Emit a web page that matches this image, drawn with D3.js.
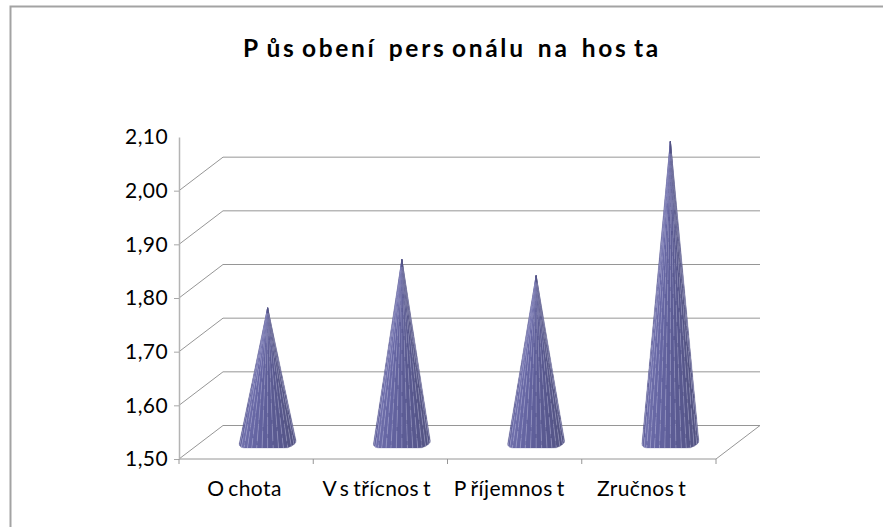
<!DOCTYPE html>
<html>
<head>
<meta charset="utf-8">
<script src="https://cdnjs.cloudflare.com/ajax/libs/d3/7.8.5/d3.min.js"></script>
<style>
  html, body { margin: 0; padding: 0; background: #fff; }
  svg { display: block; }
  text { font-family: Lato, "Open Sans", sans-serif; fill: #000; }
</style>
</head>
<body>
<svg class="chart" width="883" height="527"></svg>
<script>
var categories = ["Ochota", "Vstřícnost", "Příjemnost", "Zručnost"]
var values = [1.75, 1.84, 1.81, 2.06]
var yTicks = [1.5, 1.6, 1.7, 1.8, 1.9, 2.0, 2.1]
var gridTicks = [1.5, 1.6, 1.7, 1.8, 1.9, 2.0]
var title = "Působení personálu na hosta"

var svg = d3.select(".chart")
var defs = svg.append("defs")

var plot = {left: 179, right: 716, bottom: 459, top: 137}
var depth = {x: 44, y: -33.5}

var y = d3.scaleLinear().domain([1.5, 2.1]).range([plot.bottom, plot.top])
var x = d3.scaleBand().domain(categories).range([plot.left, plot.right])
var labelX = d3.scalePoint().domain(categories).range([244.5, 641.5])
var grey = "#969696"

// outer frame, only top and left edges show
svg.append("path")
    .attr("d", "M10.5,527V6.5H883")
    .attr("fill", "none")
    .attr("stroke", "#a3a3a3")
    .attr("stroke-width", 2)

// back wall gridlines plus the slanted side wall lines
var grid = svg.append("g")
    .attr("fill", "none")
    .attr("stroke", grey)

grid.selectAll("path")
  .data(gridTicks)
  .enter().append("path")
    .attr("d", function(d) {
      return `M${plot.left},${y(d)}l${depth.x},${depth.y}H${plot.right + depth.x}`
    })

// floor
grid.append("path")
    .attr("d", `M${plot.left},${plot.bottom}H${plot.right}l${depth.x},${depth.y}`)

var yAxis = d3.axisLeft(y)
    .tickValues(yTicks)
    .tickSize(5)
    .tickSizeOuter(0)
    .tickFormat(function(d) { return d3.format(".2f")(d).replace(".", ",") })

var yG = svg.append("g")
    .attr("transform", `translate(${plot.left},0)`)
    .call(yAxis)
yG.selectAll("line").attr("stroke", "#a8a8a8")
yG.select(".domain").attr("stroke", "#b4b4b4").attr("stroke-width", 1.5)
yG.selectAll(".tick")
    .filter(function(d) { return d === 2.1 })
    .select("line").remove()
yG.selectAll("text")
    .attr("x", -11)
    .attr("font-size", 21)
    .attr("letter-spacing", 0.4)

// category separators under the floor
svg.append("g")
    .attr("stroke", grey)
  .selectAll("line")
  .data(categories.map(function(d) { return x(d) }).concat(plot.right))
  .enter().append("line")
    .attr("x1", function(d) { return d })
    .attr("x2", function(d) { return d })
    .attr("y1", plot.bottom)
    .attr("y2", plot.bottom + 5)

// Cones
var baseOffset = {x: 22, y: -17}
var radius = 28.5
var facetAngles = d3.range(0, 17).map(function(i) { return Math.PI * i / 16 })
var shade = d3.scaleLinear()
    .domain([0, 0.12, 0.3, 0.55, 0.85, 1])
    .range(["#50508a", "#6e6eaa", "#6666a3", "#5a5a92", "#525280", "#5e5e90"])

function basePoint(cx, cy, a) {
  // coarse polygon base: flat along the bottom, right corner sits a bit higher
  return [cx - radius * Math.cos(a), Math.min(cy + 0.5 + 1.5 * Math.cos(a) + 9 * Math.sin(a), cy + 6)]
}

var cones = svg.append("g").selectAll("g")
  .data(values)
  .enter().append("g")

cones.each(function(v, i) {
  var cx = x(categories[i]) + x.bandwidth() / 2 + baseOffset.x - 0.5
  var cy = plot.bottom + baseOffset.y
  var apexY = y(v) + baseOffset.y
  var g = d3.select(this)

  g.selectAll("path")
    .data(d3.pairs(facetAngles))
    .enter().append("path")
      .attr("d", function(d) {
        var a = basePoint(cx, cy, d[0])
        var b = basePoint(cx, cy, d[1])
        return `M${cx},${apexY}L${a}L${b}Z`
      })
      .attr("fill", function(d) { return shade(d[0] / Math.PI) })
      .attr("stroke", function(d) { return shade(d[0] / Math.PI) })
      .attr("stroke-width", 0.3)

  // seams fade out toward the tip so they don't stop in a visible band
  var seam = defs.append("linearGradient")
      .attr("id", "seam" + i)
      .attr("gradientUnits", "userSpaceOnUse")
      .attr("x1", 0).attr("x2", 0)
      .attr("y1", cy).attr("y2", apexY)
  seam.append("stop").attr("offset", 0).attr("stop-color", "#c8c8ea").attr("stop-opacity", 0.55)
  seam.append("stop").attr("offset", 0.5).attr("stop-color", "#c8c8ea").attr("stop-opacity", 0.45)
  seam.append("stop").attr("offset", 1).attr("stop-color", "#c8c8ea").attr("stop-opacity", 0.1)

  g.selectAll("line")
    .data(facetAngles.slice(1, -1))
    .enter().append("line")
      .attr("x1", function(d) { return basePoint(cx, cy, d)[0] })
      .attr("y1", function(d) { return basePoint(cx, cy, d)[1] })
      .attr("x2", function(d) { return cx + (basePoint(cx, cy, d)[0] - cx) * 0.04 })
      .attr("y2", function(d) { return apexY + (basePoint(cx, cy, d)[1] - apexY) * 0.04 })
      .attr("stroke", "url(#seam" + i + ")")
      .attr("stroke-width", 0.6)
      .attr("stroke-dasharray", "17 4")
      .attr("stroke-dashoffset", function(d, j) { return j * 7 })
})

// Text keeps the source's odd glyph gaps, added per character with dx
function gaps(s, size, spaceSize) {
  return s.split("").map(function(c, i) {
    var prev = s[i - 1]
    if (prev === " ") return spaceSize
    return (prev && "OVPs".indexOf(prev) >= 0) ? size : 0
  }).join(" ")
}

svg.append("g")
    .attr("text-anchor", "middle")
  .selectAll("text")
  .data(categories)
  .enter().append("text")
    .attr("x", function(d) { return labelX(d) })
    .attr("y", 496)
    .attr("font-size", 21)
    .attr("letter-spacing", 0.4)
    .attr("dx", function(d) { return gaps(d, 4, 0) })
    .text(function(d) { return d })

svg.append("text")
    .attr("x", 452)
    .attr("y", 57)
    .attr("text-anchor", "middle")
    .attr("font-size", 24.5)
    .attr("font-weight", 700)
    .attr("letter-spacing", 2.7)
    .attr("dx", gaps(title, 5.5, 3.5))
    .text(title)
</script>
</body>
</html>
